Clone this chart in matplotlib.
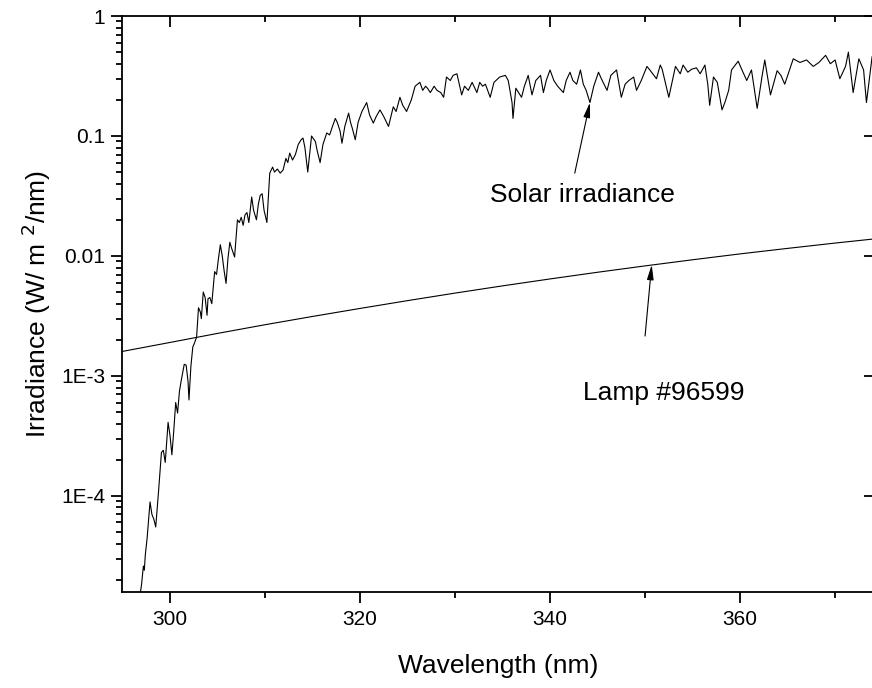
import matplotlib
matplotlib.use("Agg")
import matplotlib.pyplot as plt
from matplotlib.ticker import FixedLocator, LogLocator, NullFormatter, FixedFormatter

plt.rcParams["font.family"] = ["Liberation Sans", "DejaVu Sans"]

# solar irradiance (W/m2/nm)
solar_wl = [
    296.9, 297.0, 297.2, 297.3, 297.4, 297.6, 297.9, 298.1, 298.3, 298.5,
    298.8, 299.1, 299.3, 299.5, 299.8, 300.0, 300.2, 300.4, 300.6, 300.8,
    301.0, 301.2, 301.5, 301.7, 301.9, 302.0, 302.2, 302.4, 302.6, 302.8,
    303.0, 303.2, 303.3, 303.5, 303.7, 303.9, 304.0, 304.2, 304.4, 304.7,
    304.9, 305.1, 305.3, 305.5, 305.7, 305.9, 306.1, 306.3, 306.5, 306.8,
    307.1, 307.3, 307.5, 307.7, 307.9, 308.1, 308.3, 308.6, 308.8, 309.1,
    309.3, 309.5, 309.7, 309.9, 310.2, 310.5, 310.8, 311.0, 311.3, 311.6,
    311.9, 312.2, 312.4, 312.6, 312.9, 313.2, 313.5, 313.8, 314.0, 314.2,
    314.5, 314.9, 315.1, 315.3, 315.5, 315.8, 316.1, 316.5, 316.8, 317.1,
    317.4, 317.6, 317.9, 318.1, 318.4, 318.8, 319.0, 319.2, 319.5, 319.8,
    320.2, 320.7, 321.0, 321.4, 321.7, 322.1, 322.5, 323.0, 323.5, 323.8,
    324.2, 324.5, 324.9, 325.4, 325.8, 326.3, 326.6, 326.9, 327.1, 327.4,
    327.8, 328.1, 328.5, 328.8, 329.1, 329.5, 329.8, 330.2, 330.7, 331.0,
    331.4, 331.8, 332.3, 332.6, 332.9, 333.2, 333.7, 334.1, 334.7, 335.3,
    335.6, 336.0, 336.1, 336.4, 337.0, 337.3, 337.7, 338.1, 338.5, 339.0,
    339.3, 339.6, 340.0, 340.4, 340.8, 341.4, 341.7, 342.1, 342.4, 342.8,
    343.2, 343.5, 343.8, 344.2, 344.6, 345.1, 345.4, 346.0, 346.4, 347.0,
    347.5, 347.9, 348.3, 348.8, 349.1, 349.6, 350.2, 350.5, 351.2, 351.6,
    351.8, 352.5, 353.2, 353.7, 354.0, 354.5, 354.9, 355.4, 355.8, 356.3,
    356.6, 356.8, 357.2, 357.6, 358.1, 358.4, 358.8, 359.1, 359.8, 360.2,
    360.7, 361.2, 361.8, 362.3, 362.6, 363.2, 363.9, 364.3, 364.7, 365.6,
    366.3, 367.0, 367.7, 368.3, 369.0, 369.5, 370.0, 370.5, 371.1, 371.4,
    371.9, 372.5, 373.0, 373.3, 373.9, 374.3,
]
solar_irr = [
    1.6e-5, 1.8e-5, 2.6e-5, 2.4e-5, 3.2e-5, 4.5e-5, 8.9e-5, 7.0e-5, 6.4e-5, 5.5e-5,
    1.1e-4, 2.3e-4, 2.4e-4, 1.9e-4, 4.1e-4, 3.2e-4, 2.2e-4, 3.5e-4, 6.0e-4, 4.9e-4,
    7.5e-4, 9.3e-4, 1.25e-3, 1.23e-3, 9.0e-4, 6.3e-4, 1.2e-3, 1.74e-3, 1.9e-3, 2.1e-3,
    3.7e-3, 3.4e-3, 3.0e-3, 5.0e-3, 4.5e-3, 3.2e-3, 4.4e-3, 4.5e-3, 4.0e-3, 7.4e-3,
    7.0e-3, 9.5e-3, 1.24e-2, 1.0e-2, 7.5e-3, 5.9e-3, 9.5e-3, 1.3e-2, 1.15e-2, 9.8e-3,
    2.0e-2, 1.9e-2, 2.1e-2, 1.8e-2, 2.2e-2, 2.3e-2, 1.9e-2, 3.1e-2, 2.4e-2, 2.0e-2,
    2.7e-2, 3.2e-2, 3.3e-2, 2.4e-2, 1.9e-2, 4.9e-2, 5.5e-2, 5.0e-2, 5.3e-2, 4.9e-2,
    5.2e-2, 6.5e-2, 6.0e-2, 7.2e-2, 6.3e-2, 7.0e-2, 8.5e-2, 9.3e-2, 9.6e-2, 8.0e-2,
    5.0e-2, 1.0e-1, 9.5e-2, 9.0e-2, 7.5e-2, 6.0e-2, 8.5e-2, 1.06e-1, 1.02e-1, 1.2e-1,
    1.4e-1, 1.3e-1, 1.1e-1, 8.7e-2, 1.2e-1, 1.55e-1, 1.3e-1, 1.15e-1, 9.3e-2, 1.3e-1,
    1.6e-1, 1.9e-1, 1.5e-1, 1.28e-1, 1.45e-1, 1.65e-1, 1.45e-1, 1.2e-1, 1.75e-1, 1.6e-1,
    2.1e-1, 1.8e-1, 1.6e-1, 2.0e-1, 2.6e-1, 2.8e-1, 2.4e-1, 2.6e-1, 2.5e-1, 2.3e-1,
    2.6e-1, 2.4e-1, 2.3e-1, 2.1e-1, 3.1e-1, 2.9e-1, 3.2e-1, 3.3e-1, 2.2e-1, 2.6e-1,
    2.4e-1, 2.8e-1, 2.3e-1, 2.8e-1, 2.6e-1, 2.7e-1, 2.1e-1, 2.8e-1, 3.1e-1, 3.2e-1,
    2.9e-1, 1.9e-1, 1.4e-1, 2.5e-1, 2.1e-1, 2.6e-1, 3.2e-1, 2.2e-1, 2.9e-1, 3.2e-1,
    2.3e-1, 2.9e-1, 3.55e-1, 2.9e-1, 2.6e-1, 2.3e-1, 2.9e-1, 3.4e-1, 2.9e-1, 2.7e-1,
    3.55e-1, 2.7e-1, 2.4e-1, 1.9e-1, 2.6e-1, 3.4e-1, 3.0e-1, 2.4e-1, 3.2e-1, 3.55e-1,
    2.1e-1, 2.7e-1, 2.9e-1, 3.1e-1, 2.4e-1, 2.9e-1, 3.8e-1, 3.55e-1, 3.0e-1, 3.9e-1,
    3.6e-1, 2.1e-1, 3.8e-1, 3.3e-1, 3.9e-1, 3.4e-1, 3.6e-1, 3.7e-1, 3.3e-1, 3.9e-1,
    2.7e-1, 1.8e-1, 3.1e-1, 2.8e-1, 1.65e-1, 1.9e-1, 2.4e-1, 3.55e-1, 4.2e-1, 3.55e-1,
    2.9e-1, 3.55e-1, 1.7e-1, 3.1e-1, 4.3e-1, 2.2e-1, 3.5e-1, 3.2e-1, 2.7e-1, 4.4e-1,
    4.1e-1, 4.3e-1, 3.8e-1, 4.1e-1, 4.7e-1, 4.0e-1, 4.3e-1, 3.0e-1, 3.8e-1, 5.0e-1,
    2.3e-1, 4.4e-1, 3.55e-1, 1.9e-1, 4.6e-1, 3.0e-1,
]

# lamp #96599 calibration curve
lamp_wl = [295, 300, 305, 310, 315, 320, 325, 330, 335, 340, 345, 350, 355, 360, 365, 370, 375]
lamp_irr = [1.60e-3, 1.90e-3, 2.26e-3, 2.67e-3, 3.13e-3, 3.65e-3, 4.24e-3, 4.90e-3, 5.63e-3,
            6.43e-3, 7.31e-3, 8.26e-3, 9.29e-3, 1.04e-2, 1.156e-2, 1.28e-2, 1.41e-2]

y_ticks = [1e-4, 1e-3, 1e-2, 1e-1, 1]
y_labels = ["1E-4", "1E-3", "0.01", "0.1", "1"]

fig = plt.figure(figsize=(8.72, 6.88), dpi=100)
ax = fig.add_axes([122 / 872, 1 - 592 / 688, 753 / 872, 576 / 688])

ax.plot(solar_wl, solar_irr, color="black", lw=0.8)
ax.plot(lamp_wl, lamp_irr, color="black", lw=0.8)

ax.set_yscale("log")
ax.set_xlim(294.95, 374.2)
ax.set_ylim(1.58e-5, 1.0)

ax.xaxis.set_major_locator(FixedLocator([300, 320, 340, 360]))
ax.xaxis.set_minor_locator(FixedLocator([310, 330, 350, 370]))
ax.yaxis.set_major_locator(FixedLocator(y_ticks))
ax.yaxis.set_major_formatter(FixedFormatter(y_labels))
ax.yaxis.set_minor_locator(LogLocator(base=10, subs=range(2, 10), numticks=20))
ax.yaxis.set_minor_formatter(NullFormatter())

ax.tick_params(axis="both", which="major", direction="out", length=8, width=1.3,
               labelsize=15, pad=4)
ax.tick_params(axis="x", which="major", pad=5)
ax.tick_params(axis="both", which="minor", direction="out", length=4.5, width=1.3)
ax.tick_params(axis="x", which="both", top=True, labeltop=False)
ax.tick_params(axis="y", which="major", right=True, labelright=False)
ax.tick_params(axis="y", which="minor", right=False)

for sp in ax.spines.values():
    sp.set_linewidth(1.3)

ax.set_xlabel("Wavelength (nm)", fontsize=19, labelpad=18)
ax.set_ylabel("Irradiance (W/ m $^{\\rm 2}$/nm)", fontsize=19, labelpad=6)

# top / right ticks point inward (Origin style)
for t in ax.xaxis.get_major_ticks() + ax.xaxis.get_minor_ticks():
    t.tick2line.set_marker(3)
for t in ax.yaxis.get_major_ticks():
    t.tick2line.set_marker(0)

arrow = dict(arrowstyle="-|>,head_length=0.9,head_width=0.2", color="black", lw=0.8,
             shrinkA=0, shrinkB=0)
ax.annotate("", xy=(344.2, 0.19), xytext=(342.6, 0.049), arrowprops=arrow)
ax.text(343.4, 0.0282, "Solar irradiance", fontsize=19, ha="center", va="baseline")
ax.annotate("", xy=(350.7, 8.45e-3), xytext=(350.0, 2.15e-3), arrowprops=arrow)
ax.text(352.0, 6.3e-4, "Lamp #96599", fontsize=19, ha="center", va="baseline")

fig.savefig("out.png", dpi=100)
